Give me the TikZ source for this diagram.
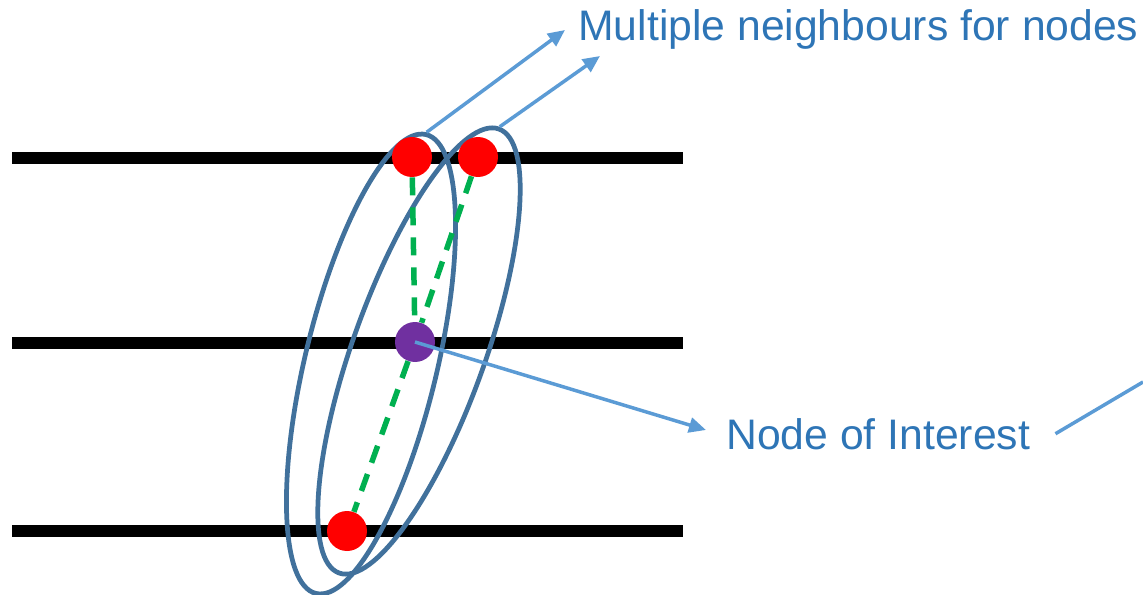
\documentclass[tikz,border=0pt]{standalone}
\usepackage{fontspec}
\setmainfont{Liberation Sans}
\usetikzlibrary{arrows.meta,shapes.geometric}
\definecolor{ringblue}{HTML}{41719C}
\definecolor{arrowblue}{HTML}{5B9BD5}
\definecolor{textblue}{HTML}{2E75B6}
\definecolor{edgegreen}{HTML}{00B050}
\definecolor{poipurple}{HTML}{7030A0}
\begin{document}
\begin{tikzpicture}[
  x=0.02cm,y=-0.02cm,
  track/.style={line width=0.25cm,black},
  ring/.style={draw=ringblue,ellipse,line width=0.095cm,inner sep=0pt,
    minimum width=9.44cm,minimum height=2.64cm},
  dot/.style={circle,inner sep=0pt,minimum size=0.8cm},
  link/.style={edgegreen,line width=0.11cm,dash pattern=on 0.36cm off 0.24cm},
  pointer/.style={arrowblue,line width=0.07cm,-{Triangle[length=0.34cm,width=0.3cm]}},
  callout/.style={textblue,inner sep=0pt,font=\fontsize{24.3}{29}\selectfont}
]
\useasboundingbox (0,0) rectangle (1143,595);
% three layers
\foreach \y in {158,343,531}
  \draw[track] (12,\y) -- (683,\y);
% neighbourhoods
\node[ring,rotate=76.5] (grpA) at (371,364) {};
\node[ring,rotate=70.2] (grpB) at (419,351) {};
% nodes
\node[dot,fill=red] (nbrA) at (412,157) {};
\node[dot,fill=red] (nbrB) at (478,157) {};
\node[dot,fill=red] (nbrC) at (347,531) {};
\node[dot,fill=poipurple] (poi) at (415,342) {};
\draw[link] (nbrA) -- (poi);
\draw[link] (nbrB) -- (poi);
\draw[link] (poi) -- (nbrC);
% labels
\node[callout,anchor=base west] (multi) at (578,40) {Multiple neighbours for nodes};
\node[callout,anchor=base west] (interest) at (726,449) {Node of Interest};
\coordinate (tipA) at (565,30);
\coordinate (tipB) at (600,56);
\coordinate (tipC) at (706,430);
\coordinate (offpage) at (1143,382);
\draw[pointer] (grpA.east) -- (tipA);
\draw[pointer] (grpB.east) -- (tipB);
\draw[pointer] (poi.center) -- (tipC);
\draw[pointer,-] ([xshift=0.5cm]interest.east) -- (offpage);
\end{tikzpicture}
\end{document}
